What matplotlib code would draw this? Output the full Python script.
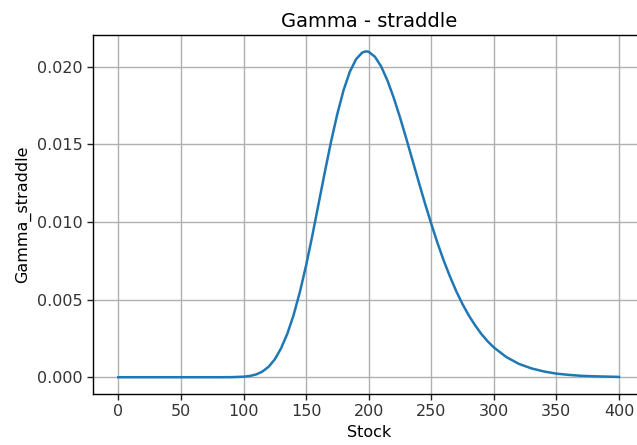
import matplotlib
matplotlib.use("Agg")
import matplotlib.pyplot as plt

# Stock price grid and straddle gamma values
stock = [0, 10, 20, 30, 40, 50, 60, 70, 80, 90,
         100, 105, 110, 115, 120, 125, 130, 135, 140, 145,
         150, 155, 160, 165, 170, 175, 180, 185, 190, 195,
         198, 200, 205, 210, 215, 220, 225, 230, 235, 240,
         245, 250, 255, 260, 265, 270, 275, 280, 285, 290,
         295, 300, 310, 320, 330, 340, 350, 360, 370, 380,
         390, 400]
gamma_straddle = [0.0, 0.0, 0.0, 0.0, 0.0, 0.0, 0.0, 0.0, 0.0, 0.000004,
                  0.000033, 0.00008, 0.000175, 0.00036, 0.00067, 0.00115, 0.00186, 0.00280, 0.00400, 0.00548,
                  0.00720, 0.00913, 0.01118, 0.01323, 0.01520, 0.01698, 0.01851, 0.01969, 0.02050, 0.02093,
                  0.02100, 0.02097, 0.02065, 0.02002, 0.01912, 0.01801, 0.01675, 0.01539, 0.01399, 0.01258,
                  0.01120, 0.00989, 0.00865, 0.00751, 0.00648, 0.00554, 0.00471, 0.00398, 0.00335, 0.00279,
                  0.00232, 0.00192, 0.00130, 0.00086, 0.00057, 0.00037, 0.00023, 0.00015, 0.00009, 0.00006,
                  0.00004, 0.00002]

fig = plt.figure(figsize=(6.37, 4.45), dpi=100)
ax = fig.add_axes([0.1465, 0.1157, 0.8645, 0.8056])

ax.plot(stock, gamma_straddle, color='#1f77b4', linewidth=1.8)
ax.grid(True, color='#b0b0b0', linewidth=1.0)

ax.set_title('Gamma - straddle', fontsize=14)
ax.set_xlabel('Stock', fontsize=11.5)
ax.set_ylabel('Gamma_straddle', fontsize=11.5)
ax.set_xticks(range(0, 401, 50))
ax.set_yticks([0.0, 0.005, 0.010, 0.015, 0.020])
ax.tick_params(labelsize=11.5, length=4.2, width=1.0, colors='#222222', labelcolor='#333333')
for s in ax.spines.values():
    s.set_linewidth(1.0)

fig.savefig('out.png', dpi=100)
